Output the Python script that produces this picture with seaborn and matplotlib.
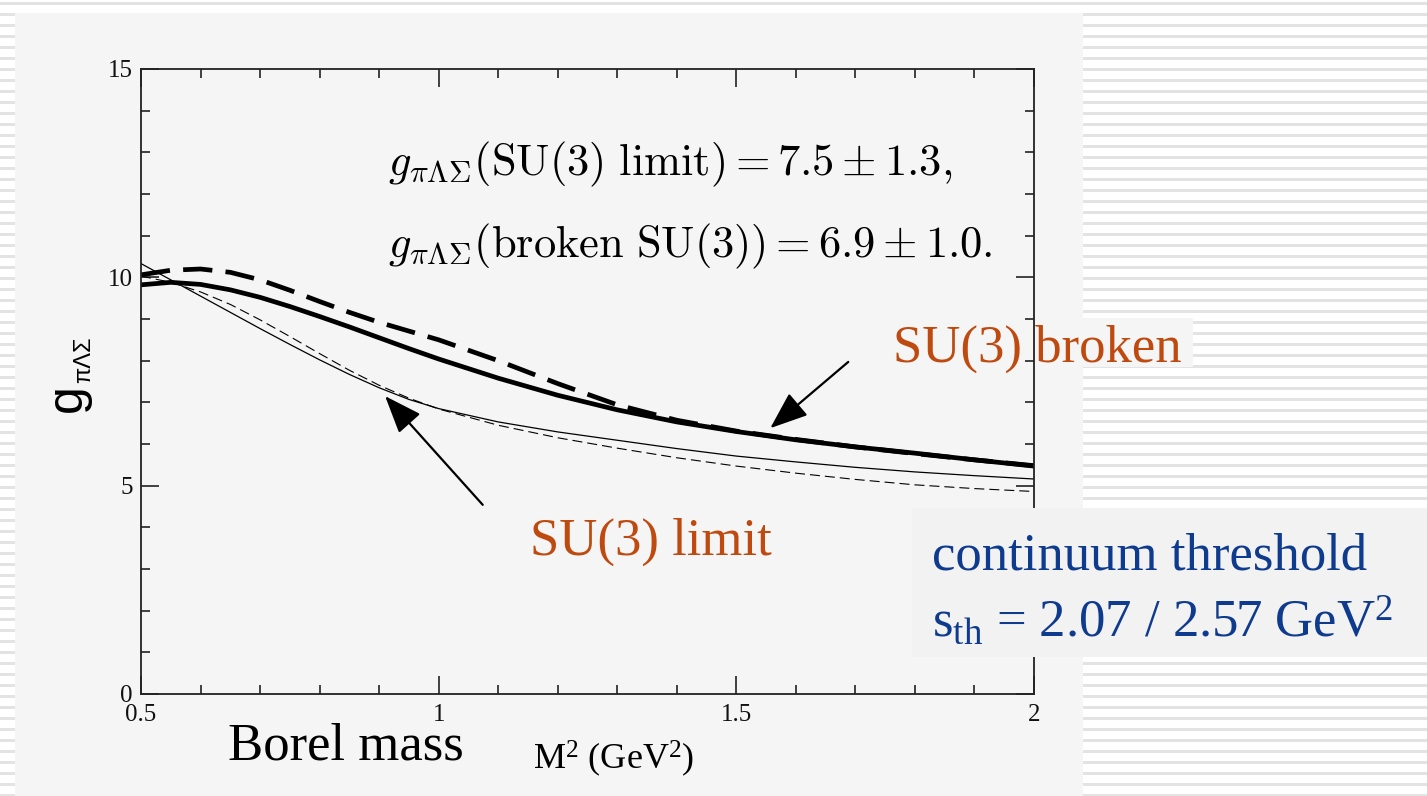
import matplotlib
matplotlib.use("Agg")
import matplotlib.pyplot as plt
import numpy as np
import pandas as pd
import seaborn as sns
from matplotlib.patches import Rectangle

# Borel mass grid M^2 (GeV^2)
m2 = [0.50, 0.55, 0.60, 0.65, 0.70, 0.75, 0.80, 0.85, 0.90, 0.95, 1.00,
      1.10, 1.20, 1.30, 1.40, 1.50, 1.60, 1.70, 1.80, 1.90, 2.00]

# coupling g_{pi Lambda Sigma}, broken SU(3): two continuum thresholds
broken_solid = [9.82, 9.88, 9.83, 9.70, 9.52, 9.30, 9.06, 8.81, 8.55, 8.29, 8.04,
                7.58, 7.17, 6.82, 6.53, 6.30, 6.10, 5.93, 5.78, 5.62, 5.47]
broken_dashed = [10.06, 10.17, 10.20, 10.12, 9.94, 9.69, 9.42, 9.16, 8.92, 8.71, 8.50,
                 8.00, 7.45, 6.94, 6.57, 6.31, 6.11, 5.93, 5.77, 5.62, 5.48]

# coupling in the SU(3) limit: two continuum thresholds
limit_solid = [10.33, 9.94, 9.55, 9.16, 8.77, 8.39, 8.02, 7.67, 7.35, 7.07, 6.85,
               6.53, 6.29, 6.09, 5.89, 5.71, 5.57, 5.44, 5.33, 5.24, 5.16]
limit_dashed = [10.03, 9.88, 9.65, 9.35, 8.98, 8.58, 8.17, 7.77, 7.41, 7.10, 6.84,
                6.45, 6.15, 5.90, 5.67, 5.47, 5.30, 5.15, 5.02, 4.93, 4.86]

x_ticks = [0.5, 1.0, 1.5, 2.0]
x_tick_labels = ["0.5", "1", "1.5", "2"]
y_ticks = [0, 5, 10, 15]
y_tick_labels = ["0", "5", "10", "15"]

W, H = 1427, 796
ORANGE = "#BF4A10"
NAVY = "#0F3B8E"
PANEL = "#f5f5f5"


def fx(px):
    return px / W


def fy(py):
    return 1 - py / H


sns.set_theme(style="white")
plt.rcParams["font.family"] = ["Liberation Serif", "DejaVu Serif"]
plt.rcParams["mathtext.fontset"] = "custom"
plt.rcParams["mathtext.rm"] = "Liberation Serif"
plt.rcParams["mathtext.it"] = "Liberation Serif:italic"

fig = plt.figure(figsize=(W / 100, H / 100), dpi=100)
fig.patch.set_facecolor("white")

# striped slide background
for k in range(80):
    y0 = 2 + 11 * k
    fig.patches.append(Rectangle((0, fy(y0 + 2.6)), 1, 2.6 / H, transform=fig.transFigure,
                                 facecolor="#e3e3e3", edgecolor="none", zorder=-20))
# light grey panel behind the chart
fig.patches.append(Rectangle((fx(15), 0), fx(1083 - 15), fy(12.5), transform=fig.transFigure,
                             facecolor=PANEL, edgecolor="none", zorder=-19))
fig.patches.append(Rectangle((fx(1083), fy(367)), fx(110), 49 / H, transform=fig.transFigure,
                             facecolor=PANEL, edgecolor="none", zorder=-18))

ax = fig.add_axes([fx(141), fy(694), fx(1034 - 141), (694 - 69) / H])
ax.patch.set_alpha(0)

df = pd.DataFrame({"m2": m2, "broken_solid": broken_solid, "broken_dashed": broken_dashed,
                   "limit_solid": limit_solid, "limit_dashed": limit_dashed})

sns.lineplot(data=df, x="m2", y="limit_solid", ax=ax, color="black", lw=0.9)
sns.lineplot(data=df, x="m2", y="limit_dashed", ax=ax, color="black", lw=0.8)
ax.lines[-1].set_dashes((9, 4.5))
sns.lineplot(data=df, x="m2", y="broken_solid", ax=ax, color="black", lw=3.4)
sns.lineplot(data=df, x="m2", y="broken_dashed", ax=ax, color="black", lw=3.4)
ax.lines[-1].set_dashes((6.2, 2.8))

ax.set_xlim(0.5, 2.0)
ax.set_ylim(0, 15)
ax.set_xticks(x_ticks, x_tick_labels)
ax.set_yticks(y_ticks, y_tick_labels)
ax.set_xticks(np.arange(0.6, 2.0, 0.1), minor=True)
ax.set_yticks([v for v in range(1, 15) if v % 5], minor=True)
ax.set_xlabel("")
ax.set_ylabel("")
for s in ax.spines.values():
    s.set_color("#222222")
    s.set_linewidth(1.3)
ax.tick_params(which="both", direction="in", top=True, right=True, bottom=True, left=True,
               colors="#222222", width=1.2, labelsize=18, labelcolor="#111111")
ax.tick_params(which="major", length=13)
ax.tick_params(which="minor", length=6.5)
ax.tick_params(axis="y", pad=6)
ax.tick_params(axis="x", pad=7)

# arrows pointing at the two families of curves
arrow = dict(arrowstyle="-|>,head_length=1.3,head_width=0.5", color="black", lw=1.6,
             mutation_scale=18, shrinkA=0, shrinkB=0)
ax.annotate("", xy=(1.557, 6.38), xytext=(1.688, 7.97), arrowprops=arrow)
ax.annotate("", xy=(0.91, 7.15), xytext=(1.074, 4.54), arrowprops=arrow)

# fitted values
fig.text(fx(388), fy(175), r"$g_{\pi\Lambda\Sigma}(\mathrm{SU(3)\ limit}) = 7.5 \pm 1.3,$",
         math_fontfamily="cm", fontsize=32, color="black", va="baseline")
fig.text(fx(388), fy(257), r"$g_{\pi\Lambda\Sigma}(\mathrm{broken\ SU(3)}) = 6.9 \pm 1.0.$",
         math_fontfamily="cm", fontsize=32, color="black", va="baseline")

fig.text(fx(893), fy(362), "SU(3) broken", fontsize=38, color=ORANGE, va="baseline", zorder=-17)
fig.text(fx(530), fy(555), "SU(3) limit", fontsize=38, color=ORANGE, va="baseline")

# threshold note
fig.patches.append(Rectangle((fx(912), fy(657)), fx(W - 912), (657 - 508) / H,
                             transform=fig.transFigure, facecolor="#f2f2f2",
                             edgecolor="none", zorder=5))
fig.text(fx(932), fy(570), "continuum threshold", fontsize=38, color=NAVY,
         va="baseline", zorder=6)
fig.text(fx(932), fy(636), r"s$_{\mathrm{th}}$ = 2.07 / 2.57 GeV$^{2}$", fontsize=38,
         color=NAVY, va="baseline", zorder=6)

# axis titles
fig.text(fx(228), fy(760), "Borel mass", fontsize=38, color="black", va="baseline")
fig.text(fx(533), fy(769), r"M$^{2}$ (GeV$^{2}$)", fontsize=26, color="black", va="baseline")
fig.text(fx(68), fy(398), "g", fontsize=36, family="Liberation Sans", rotation=90,
         color="black", va="center", ha="center")
fig.text(fx(84), fy(360), "πΛΣ", fontsize=17, family="Liberation Sans", rotation=90,
         color="black", va="center", ha="center")

fig.savefig("out.png", dpi=100)
